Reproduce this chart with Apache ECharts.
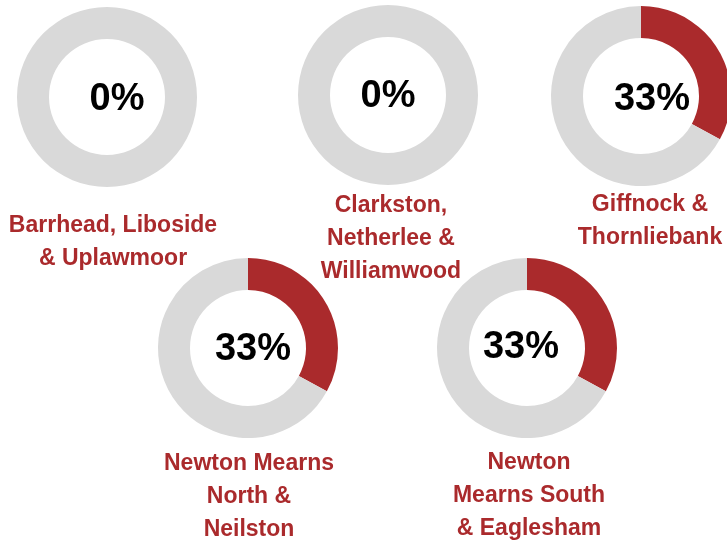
<!DOCTYPE html>
<html>
<head>
<meta charset="utf-8">
<script src="https://cdn.jsdelivr.net/npm/echarts@6/dist/echarts.min.js"></script>
<style>
html,body{margin:0;padding:0;background:#fff;}
#chart{width:727px;height:544px;}
</style>
</head>
<body>
<div id="chart"></div>
<script>
// Data
const areas = [
  'Barrhead, Liboside\n& Uplawmoor',
  'Clarkston,\nNetherlee &\nWilliamwood',
  'Giffnock &\nThornliebank',
  'Newton Mearns\nNorth &\nNeilston',
  'Newton\nMearns South\n& Eaglesham'
];
const percentValues = [0, 0, 33, 33, 33];

// Layout (positions only)
const donutCenters = [[107, 97], [388, 95], [641, 96], [248, 348], [527, 348]];
const pctTextPos = [[117, 100], [388, 97], [652, 100], [253, 350], [521, 348]];
const labelPos = [[113, 242], [391, 239], [650, 221], [249, 497], [529, 496]];

const RED = '#AA2A2C';
const GREY = '#D9D9D9';

const chart = echarts.init(document.getElementById('chart'), null, {renderer: 'canvas'});

const series = percentValues.map((v, i) => ({
  type: 'pie',
  center: donutCenters[i],
  radius: [58, 90],
  startAngle: 90,
  clockwise: true,
  silent: true,
  animation: false,
  avoidLabelOverlap: false,
  label: {show: false},
  labelLine: {show: false},
  emphasis: {disabled: true},
  itemStyle: {borderWidth: 0},
  data: [
    {name: 'Yes', value: v, itemStyle: {color: RED}},
    {name: 'No', value: 100 - v, itemStyle: {color: GREY}}
  ]
}));

const graphics = [];
percentValues.forEach((v, i) => {
  graphics.push({
    type: 'text',
    x: pctTextPos[i][0],
    y: pctTextPos[i][1],
    silent: true,
    style: {
      text: v + '%',
      font: 'bold 38px "Liberation Sans", Arial, sans-serif',
      fill: '#000',
      textAlign: 'center',
      textVerticalAlign: 'middle'
    }
  });
  graphics.push({
    type: 'text',
    x: labelPos[i][0],
    y: labelPos[i][1],
    silent: true,
    style: {
      text: areas[i],
      font: 'bold 23px "Liberation Sans", Arial, sans-serif',
      lineHeight: 33,
      fill: RED,
      textAlign: 'center',
      textVerticalAlign: 'middle'
    }
  });
});

chart.setOption({
  animation: false,
  backgroundColor: '#fff',
  series: series,
  graphic: graphics
});
</script>
</body>
</html>
